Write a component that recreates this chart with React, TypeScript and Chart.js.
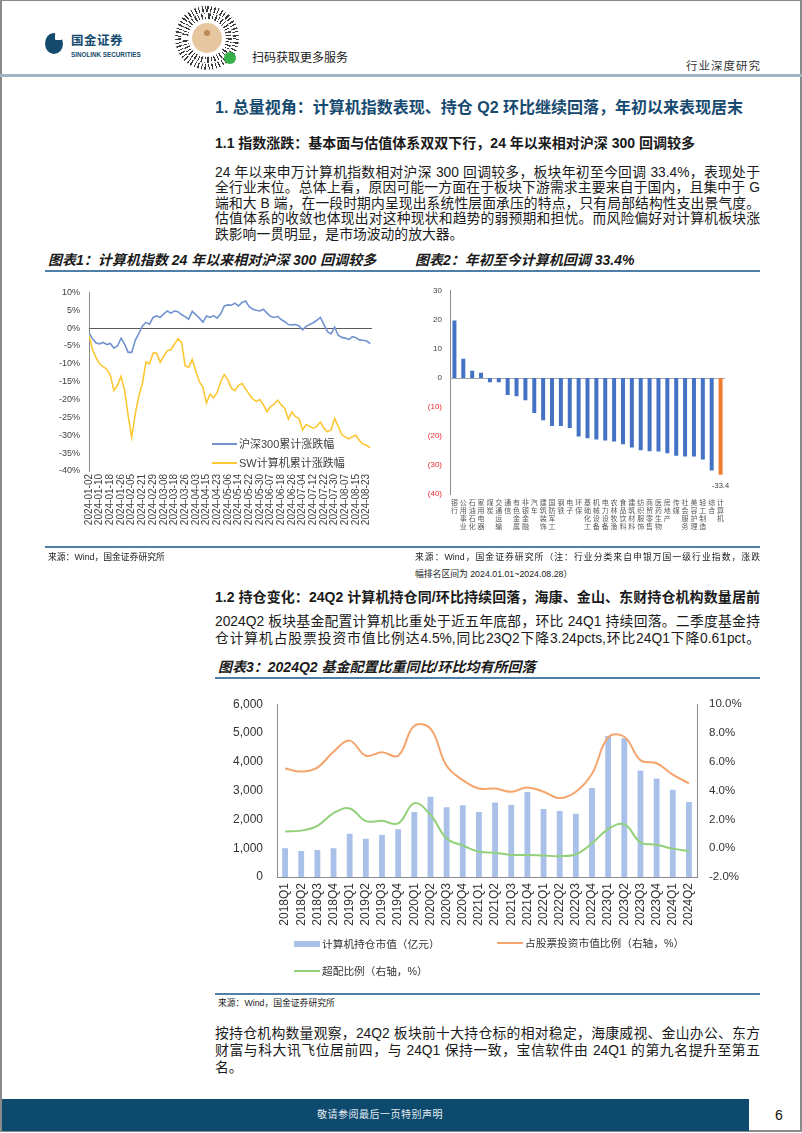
import React, { useEffect, useRef } from "react";
import { Chart, registerables } from "chart.js";
Chart.register(...registerables);

const SANS = '"Liberation Sans", "Noto Sans CJK SC", sans-serif';

// ---------------- Chart 1: cumulative returns 2024 ----------------
const c1TickLabels = [
  "2024-01-02", "2024-01-10", "2024-01-18", "2024-01-26", "2024-02-05", "2024-02-21",
  "2024-02-29", "2024-03-08", "2024-03-18", "2024-03-26", "2024-04-03", "2024-04-15",
  "2024-04-23", "2024-05-06", "2024-05-14", "2024-05-22", "2024-05-30", "2024-06-07",
  "2024-06-18", "2024-06-26", "2024-07-04", "2024-07-12", "2024-07-22", "2024-07-30",
  "2024-08-07", "2024-08-15", "2024-08-23",
];
const c1TickStep = 6; // trading days between date labels
const c1SampleStep = 2; // trading days between sampled values
const hs300 = [
  -1.3, -3.0, -4.2, -4.4, -4.0, -4.6, -4.3, -5.6, -5.0, -2.8,
  -4.5, -6.8, -6.8, -3.4, -1.5, 0.6, 1.6, 1.1, 3.0, 3.4,
  3.0, 4.0, 4.8, 4.2, 4.8, 4.6, 3.8, 3.2, 2.5, 4.7,
  3.8, 2.8, 1.7, 3.4, 3.0, 3.5, 2.8, 4.0, 6.2, 6.5,
  6.4, 7.0, 6.2, 7.2, 7.6, 6.0, 5.3, 5.0, 4.8, 5.3,
  4.2, 3.3, 3.0, 3.3, 2.4, 1.8, 1.0, 0.9, 1.0, 0.6,
  -0.5, 0.5, 1.0, 1.5, 2.2, 3.0, 1.0, -1.0, -1.6, 0.3,
  -2.0, -2.6, -2.8, -3.2, -2.4, -2.7, -3.3, -3.4, -3.6, -4.3,
];
const swComputer = [
  -2.0, -6.0, -8.3, -10.0, -10.8, -11.5, -13.2, -17.5, -16.0, -13.5,
  -17.5, -24.5, -30.5, -24.0, -19.0, -15.5, -9.5, -10.0, -7.0, -7.0,
  -9.6, -7.8, -6.3, -6.0, -4.5, -3.0, -4.0, -10.5, -11.0, -8.8,
  -12.0, -15.0, -16.5, -21.0, -18.5, -19.5, -18.0, -15.0, -13.0, -14.5,
  -16.8, -17.5, -16.0, -15.5, -17.0, -18.5, -19.8, -20.5, -20.0, -21.5,
  -23.4, -22.0, -21.3, -20.2, -21.5, -22.5, -25.5, -23.5, -24.8, -25.3,
  -28.5, -27.0, -27.5, -28.0, -27.5, -26.3, -28.0, -29.0, -28.5, -25.3,
  -27.5, -29.8, -30.5, -31.0, -30.4, -30.0, -31.5, -32.5, -32.8, -33.5,
];

// ---------------- Chart 2: industry YTD returns ----------------
const industries = [
  "银行", "公用事业", "石油石化", "家用电器", "煤炭", "交通运输", "通信", "有色金属",
  "非银金融", "汽车", "建筑装饰", "国防军工", "钢铁", "电子", "环保", "基础化工",
  "机械设备", "电力设备", "农林牧渔", "食品饮料", "建筑材料", "纺织服饰", "商贸零售",
  "医药生物", "房地产", "传媒", "社会服务", "美容护理", "轻工制造", "综合", "计算机",
];
const industryReturns = [
  19.8, 6.6, 2.5, 1.8, -1.5, -1.5, -5.9, -6.3, -7.7, -12.1, -14.6, -16.6, -16.6, -17.3,
  -20.2, -20.8, -21.2, -21.6, -21.9, -22.9, -24.0, -24.9, -25.3, -25.4, -26.0, -26.8,
  -27.1, -27.1, -28.1, -31.9, -33.4,
];
const highlightIndustry = "计算机";

// ---------------- Chart 3: fund holdings ----------------
const quarters = [
  "2018Q1", "2018Q2", "2018Q3", "2018Q4", "2019Q1", "2019Q2", "2019Q3", "2019Q4",
  "2020Q1", "2020Q2", "2020Q3", "2020Q4", "2021Q1", "2021Q2", "2021Q3", "2021Q4",
  "2022Q1", "2022Q2", "2022Q3", "2022Q4", "2023Q1", "2023Q2", "2023Q3", "2023Q4",
  "2024Q1", "2024Q2",
];
const holdingValue = [
  1000, 900, 940, 1000, 1500, 1330, 1460, 1660, 2260, 2790, 2420, 2490, 2260, 2590,
  2500, 2950, 2360, 2290, 2200, 3090, 4900, 4820, 3700, 3420, 3030, 2600,
];
const stockRatio = [
  5.54, 5.32, 5.6, 6.7, 7.47, 6.42, 6.66, 6.42, 8.5, 8.3, 5.72, 4.73, 4.14, 4.14,
  3.92, 4.22, 3.92, 3.48, 3.92, 5.17, 7.69, 7.74, 6.11, 5.9, 5.11, 4.5,
];
const overweight = [
  1.16, 1.22, 1.55, 2.43, 2.76, 1.88, 1.9, 1.72, 3.13, 2.32, 0.67, 0.19, -0.25, -0.32,
  -0.47, -0.47, -0.51, -0.55, -0.42, 0.34, 1.33, 1.66, 0.41, 0.24, -0.03, -0.2,
];

const zeroLine = (color: string) => ({
  id: "zeroLine",
  beforeDatasetsDraw(chart: any) {
    const { ctx, chartArea, scales } = chart;
    const y = Math.round(scales.y.getPixelForValue(0)) + 0.5;
    ctx.save();
    ctx.strokeStyle = color;
    ctx.lineWidth = 1;
    ctx.beginPath();
    ctx.moveTo(chartArea.left, y);
    ctx.lineTo(chartArea.right, y);
    ctx.stroke();
    ctx.restore();
  },
});

const lastBarLabel = {
  id: "lastBarLabel",
  afterDatasetsDraw(chart: any) {
    const meta = chart.getDatasetMeta(0);
    const i = industries.indexOf(highlightIndustry);
    const el = meta.data[i];
    if (!el) return;
    const { ctx } = chart;
    ctx.save();
    ctx.fillStyle = "#404040";
    ctx.font = `7.5px ${SANS}`;
    ctx.textAlign = "center";
    ctx.textBaseline = "middle";
    ctx.fillText(String(industryReturns[i]), el.x, el.y + 11.5);
    ctx.restore();
  },
};

function ChartBox(props: { left: number; top: number; width: number; height: number; make: (c: HTMLCanvasElement) => Chart }) {
  const ref = useRef<HTMLCanvasElement>(null);
  useEffect(() => {
    const chart = props.make(ref.current!);
    return () => chart.destroy();
  }, []);
  return (
    <canvas
      ref={ref}
      width={props.width}
      height={props.height}
      style={{ position: "absolute", left: props.left, top: props.top, width: props.width, height: props.height }}
    />
  );
}

const makeChart1 = (c: HTMLCanvasElement) =>
  new Chart(c, {
    type: "line",
    data: {
      datasets: [
        {
          label: "沪深300累计涨跌幅",
          data: hs300.map((v, i) => ({ x: i * c1SampleStep, y: v })),
          borderColor: "#7393cf",
          borderWidth: 1.6,
          pointRadius: 0,
          tension: 0,
        },
        {
          label: "SW计算机累计涨跌幅",
          data: swComputer.map((v, i) => ({ x: i * c1SampleStep, y: v })),
          borderColor: "#fcc735",
          borderWidth: 1.6,
          pointRadius: 0,
          tension: 0,
        },
      ],
    },
    options: {
      animation: false,
      responsive: false,
      devicePixelRatio: 1,
      layout: { padding: { top: 13, right: 18, left: 0, bottom: 0 } },
      plugins: { legend: { display: false }, tooltip: { enabled: false } },
      scales: {
        x: {
          type: "linear",
          min: 0,
          max: 159,
          afterBuildTicks: (s: any) => {
            s.ticks = c1TickLabels.map((_, i) => ({ value: i * c1TickStep }));
          },
          afterFit: (s: any) => {
            s.height = 77;
          },
          grid: { display: false, drawTicks: false },
          border: { display: false },
          ticks: {
            autoSkip: false,
            maxRotation: 90,
            minRotation: 90,
            padding: 3,
            color: "#404040",
            font: { family: SANS, size: 10 },
            callback: (v: any) => c1TickLabels[Math.round(v / c1TickStep)] ?? "",
          },
        },
        y: {
          min: -40,
          max: 10,
          afterFit: (s: any) => {
            s.width = 39;
          },
          grid: { display: false, drawTicks: false },
          border: { display: true, color: "#8c8c8c", width: 1 },
          ticks: {
            stepSize: 5,
            padding: 9,
            color: "#404040",
            font: { family: SANS, size: 9 },
            callback: (v: any) => v + "%",
          },
        },
      },
    },
    plugins: [zeroLine("#595959")],
  } as any);

const makeChart2 = (c: HTMLCanvasElement) =>
  new Chart(c, {
    type: "bar",
    data: {
      labels: industries.map((s) => s.split("")),
      datasets: [
        {
          data: industryReturns,
          backgroundColor: industries.map((n) => (n === highlightIndustry ? "#ed7d31" : "#4472c4")),
          barPercentage: 0.45,
          categoryPercentage: 1,
        },
      ],
    },
    options: {
      animation: false,
      responsive: false,
      devicePixelRatio: 1,
      layout: { padding: { top: 12, right: 35, left: 0, bottom: 0 } },
      plugins: { legend: { display: false }, tooltip: { enabled: false } },
      scales: {
        x: {
          afterFit: (s: any) => {
            s.height = 52;
          },
          grid: { display: false, drawTicks: false },
          border: { display: false },
          ticks: {
            autoSkip: false,
            maxRotation: 0,
            minRotation: 0,
            padding: 5,
            color: "#595959",
            font: { family: SANS, size: 7, lineHeight: 1.15 },
          },
        },
        y: {
          min: -40,
          max: 30,
          afterFit: (s: any) => {
            s.width = 40;
          },
          grid: { display: false, drawTicks: false },
          border: { display: true, color: "#8c8c8c", width: 1 },
          ticks: {
            stepSize: 10,
            padding: 8,
            font: { family: SANS, size: 8 },
            color: (ctx: any) => (ctx.tick && ctx.tick.value < 0 ? "#e8292e" : "#404040"),
            callback: (v: any) => (v < 0 ? `(${-v})` : String(v)),
          },
        },
      },
    },
    plugins: [zeroLine("#a6a6a6"), lastBarLabel],
  } as any);

const makeChart3 = (c: HTMLCanvasElement) =>
  new Chart(c, {
    type: "bar",
    data: {
      labels: quarters,
      datasets: [
        {
          type: "line",
          label: "占股票投资市值比例（右轴，%）",
          data: stockRatio,
          yAxisID: "y1",
          borderColor: "#f4a46c",
          borderWidth: 2,
          pointRadius: 0,
          tension: 0.4,
          order: 1,
        },
        {
          type: "line",
          label: "超配比例（右轴，%）",
          data: overweight,
          yAxisID: "y1",
          borderColor: "#92d07a",
          borderWidth: 2,
          pointRadius: 0,
          tension: 0.4,
          order: 1,
        },
        {
          type: "bar",
          label: "计算机持仓市值（亿元）",
          data: holdingValue,
          yAxisID: "y",
          backgroundColor: "#a9c1e9",
          barPercentage: 0.36,
          categoryPercentage: 1,
          order: 2,
        },
      ],
    },
    options: {
      animation: false,
      responsive: false,
      devicePixelRatio: 1,
      layout: { padding: { top: 12, right: 0, left: 0, bottom: 0 } },
      plugins: { legend: { display: false }, tooltip: { enabled: false } },
      scales: {
        x: {
          afterFit: (s: any) => {
            s.height = 60;
          },
          grid: { display: false, drawTicks: false },
          border: { display: true, color: "#8c8c8c", width: 1 },
          ticks: {
            autoSkip: false,
            maxRotation: 90,
            minRotation: 90,
            padding: 6,
            color: "#333333",
            font: { family: SANS, size: 12 },
          },
        },
        y: {
          position: "left",
          min: 0,
          max: 6000,
          afterFit: (s: any) => {
            s.width = 62;
          },
          grid: { display: false, drawTicks: false },
          border: { display: true, color: "#8c8c8c", width: 1 },
          ticks: {
            stepSize: 1000,
            padding: 14,
            color: "#333333",
            font: { family: SANS, size: 12 },
            callback: (v: any) => Number(v).toLocaleString("en-US"),
          },
        },
        y1: {
          position: "right",
          min: -2,
          max: 10,
          afterFit: (s: any) => {
            s.width = 68;
          },
          grid: { display: false, drawTicks: false },
          border: { display: true, color: "#8c8c8c", width: 1 },
          ticks: {
            stepSize: 2,
            padding: 12,
            color: "#333333",
            font: { family: SANS, size: 11.5 },
            callback: (v: any) => Number(v).toFixed(1) + "%",
          },
        },
      },
    },
  } as any);

type TProps = {
  x: number;
  y: number;
  w?: number;
  size: number;
  bold?: boolean;
  italic?: boolean;
  color?: string;
  justify?: boolean;
  spacing?: number;
  children: React.ReactNode;
};

function T({ x, y, w, size, bold, italic, color, justify, spacing, children }: TProps) {
  const lh = Math.round(size * 1.4);
  return (
    <div
      style={{
        position: "absolute",
        left: x,
        top: y - lh / 2,
        width: w,
        fontSize: size,
        lineHeight: lh + "px",
        fontWeight: bold ? 700 : 400,
        fontStyle: italic ? "italic" : "normal",
        color: color || "#1a1a1a",
        whiteSpace: "nowrap",
        fontFamily: SANS,
        letterSpacing: spacing,
        textAlign: justify ? "justify" : "left",
        textAlignLast: justify ? "justify" : "auto",
      } as any}
    >
      {children}
    </div>
  );
}

const Rule = ({ x1, x2, y, color = "#4f7fa6", h = 1.5 }: { x1: number; x2: number; y: number; color?: string; h?: number }) => (
  <div style={{ position: "absolute", left: x1, top: y, width: x2 - x1, height: h, background: color }} />
);

const Circle = ({ cx, cy, d, bg }: { cx: number; cy: number; d: number; bg: string }) => (
  <div style={{ position: "absolute", left: cx - d / 2, top: cy - d / 2, width: d, height: d, borderRadius: "50%", background: bg }} />
);

export default function App() {
  useEffect(() => {
    document.body.style.margin = "0";
  }, []);
  const P = 13.8;
  return (
    <div
      style={{
        position: "absolute",
        left: 0,
        top: 0,
        width: 802,
        height: 1133,
        overflow: "hidden",
        background: "#fff",
        fontFamily: SANS,
      }}
    >
      {/* page frame */}
      <div style={{ position: "absolute", left: 0, top: 0, width: 798, height: 1129, border: "2px solid #8a8a8a", borderTopWidth: 1, boxSizing: "content-box" }} />

      {/* header */}
      <div style={{ position: "absolute", left: 45, top: 33, width: 18, height: 21, borderRadius: "50%", background: "#134a6e" }} />
      <div style={{ position: "absolute", left: 55, top: 33, width: 7, height: 7, background: "#fff", borderRadius: 1 }} />
      <T x={71} y={41} size={12.5} bold color="#134a6e" spacing={0.5}>国金证券</T>
      <T x={71} y={54} size={6.3} bold color="#134a6e">SINOLINK SECURITIES</T>
      {/* mini-program code */}
      <Circle cx={207} cy={38} d={64} bg="repeating-conic-gradient(#3a3a3a 0deg 3deg, #fff 3deg 7deg, #3a3a3a 7deg 9deg, #fff 9deg 14deg)" />
      <Circle cx={207} cy={38} d={52} bg="#fff" />
      <Circle cx={207} cy={38} d={50} bg="repeating-conic-gradient(from 5deg, #3a3a3a 0deg 4deg, #fff 4deg 9deg, #3a3a3a 9deg 11deg, #fff 11deg 17deg)" />
      <Circle cx={207} cy={38} d={38} bg="#fff" />
      <Circle cx={207} cy={38} d={30} bg="#e7c7a0" />
      <Circle cx={207} cy={33} d={6} bg="#b98a55" />
      <Circle cx={230} cy={58} d={12} bg="#35b04a" />
      <T x={252} y={58} size={12}>扫码获取更多服务</T>
      <T x={686} y={66} size={11.5} color="#333" spacing={1}>行业深度研究</T>
      <Rule x1={0} x2={802} y={74} color="#9fb4c2" h={2.5} />

      {/* section 1 */}
      <T x={215} y={108} size={16} bold color="#174a70">1. 总量视角：计算机指数表现、持仓 Q2 环比继续回落，年初以来表现居末</T>
      <T x={215} y={143} size={14} bold>1.1 指数涨跌：基本面与估值体系双双下行，24 年以来相对沪深 300 回调较多</T>
      <T x={215} y={172} w={545} size={P} justify>24 年以来申万计算机指数相对沪深 300 回调较多，板块年初至今回调 33.4%，表现处于</T>
      <T x={215} y={187.5} w={545} size={P} justify>全行业末位。总体上看，原因可能一方面在于板块下游需求主要来自于国内，且集中于 G</T>
      <T x={215} y={203} w={545} size={P} justify>端和大 B 端，在一段时期内呈现出系统性层面承压的特点，只有局部结构性支出景气度。</T>
      <T x={215} y={218.5} w={545} size={P} justify>估值体系的收敛也体现出对这种现状和趋势的弱预期和担忧。而风险偏好对计算机板块涨</T>
      <T x={215} y={234} size={P}>跌影响一贯明显，是市场波动的放大器。</T>

      <T x={48} y={260} size={14} bold italic>图表1：计算机指数 24 年以来相对沪深 300 回调较多</T>
      <T x={415} y={260} size={14} bold italic>图表2：年初至今计算机回调 33.4%</T>
      <Rule x1={45} x2={760} y={270} />

      <ChartBox left={50} top={278} width={340} height={270} make={makeChart1} />
      {/* chart 1 legend */}
      <div style={{ position: "absolute", left: 212, top: 443, width: 25, height: 2, background: "#7393cf" }} />
      <T x={239} y={444} size={11} color="#404040">沪深300累计涨跌幅</T>
      <div style={{ position: "absolute", left: 212, top: 462, width: 25, height: 2, background: "#fcc735" }} />
      <T x={239} y={463} size={11} color="#404040">SW计算机累计涨跌幅</T>

      <ChartBox left={410} top={278} width={350} height={268} make={makeChart2} />

      <Rule x1={45} x2={760} y={546} />
      <T x={48} y={557} size={8.8}>来源：Wind，国金证券研究所</T>
      <T x={415} y={557} w={345} size={8.8} justify>来源：Wind，国金证券研究所（注：行业分类来自申银万国一级行业指数，涨跌</T>
      <T x={415} y={574} size={8.8}>幅排名区间为 2024.01.01~2024.08.28）</T>

      {/* section 1.2 */}
      <T x={215} y={597} w={545} size={14} bold justify>1.2 持仓变化：24Q2 计算机持仓同/环比持续回落，海康、金山、东财持仓机构数量居前</T>
      <T x={215} y={621} w={545} size={P} justify>2024Q2 板块基金配置计算机比重处于近五年底部，环比 24Q1 持续回落。二季度基金持</T>
      <T x={215} y={638} w={545} size={P} justify>仓计算机占股票投资市值比例达4.5%,同比23Q2下降3.24pcts,环比24Q1下降0.61pct。</T>

      <T x={218} y={667} size={14} bold italic>图表3：2024Q2 基金配置比重同比/环比均有所回落</T>
      <Rule x1={215} x2={760} y={677} />

      <ChartBox left={215} top={683} width={550} height={254} make={makeChart3} />
      {/* chart 3 legend */}
      <div style={{ position: "absolute", left: 294, top: 941, width: 26, height: 6, background: "#a9c1e9" }} />
      <T x={322} y={944} size={10.7} color="#333">计算机持仓市值（亿元）</T>
      <div style={{ position: "absolute", left: 497, top: 942, width: 26, height: 2, background: "#f4a46c" }} />
      <T x={525} y={943} size={10.7} color="#333">占股票投资市值比例（右轴，%）</T>
      <div style={{ position: "absolute", left: 294, top: 970, width: 26, height: 2, background: "#92d07a" }} />
      <T x={322} y={971} size={10.7} color="#333">超配比例（右轴，%）</T>

      <Rule x1={215} x2={760} y={993} />
      <T x={218} y={1003} size={8.8}>来源：Wind，国金证券研究所</T>

      <T x={215} y={1033} w={545} size={P} justify>按持仓机构数量观察，24Q2 板块前十大持仓标的相对稳定，海康威视、金山办公、东方</T>
      <T x={215} y={1050} w={545} size={P} justify>财富与科大讯飞位居前四，与 24Q1 保持一致，宝信软件由 24Q1 的第九名提升至第五</T>
      <T x={215} y={1067} size={P}>名。</T>

      {/* footer */}
      <div style={{ position: "absolute", left: 2, top: 1099, width: 747, height: 32, background: "#0d4a6e" }} />
      <T x={317} y={1115} size={10} color="#e6edf3" spacing={0.5}>敬请参阅最后一页特别声明</T>
      <T x={775} y={1115} size={14} color="#111">6</T>
    </div>
  );
}
